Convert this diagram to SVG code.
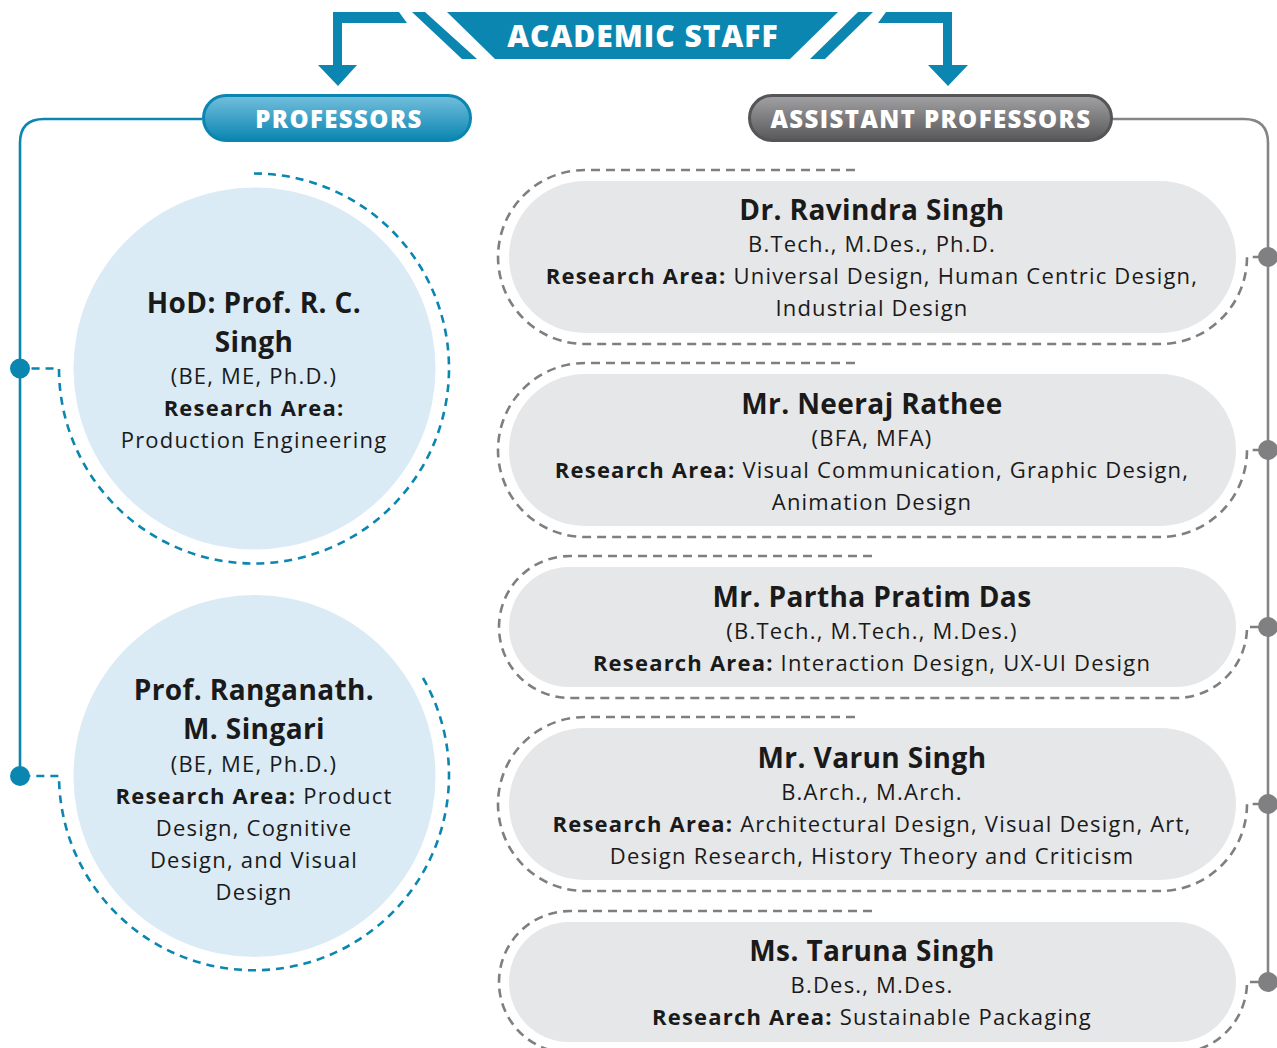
<svg xmlns="http://www.w3.org/2000/svg" width="1277" height="1048" viewBox="0 0 1277 1048">
<defs>
<linearGradient id="gBlue" x1="0" y1="0" x2="0" y2="1">
<stop offset="0" stop-color="#74bfdd"/>
<stop offset="1" stop-color="#0a86b0"/>
</linearGradient>
<linearGradient id="gGray" x1="0" y1="0" x2="0" y2="1">
<stop offset="0" stop-color="#a2a2a4"/>
<stop offset="1" stop-color="#58585a"/>
</linearGradient>
</defs>
<style>
text{font-family:"Open Sans","Liberation Sans",sans-serif;fill:#1a1a1a;text-anchor:middle}
.name{font-size:28px;font-weight:700;letter-spacing:0.4px}
.t{font-size:22px;letter-spacing:1.2px}
.b{font-weight:700}
.hdr{fill:#fff;font-weight:800}
.teal{fill:#0a86b0}
.cfill{fill:#daebf5}
.card{fill:#e6e7e8}
.tdash{fill:none;stroke:#0a86b0;stroke-width:2.6;stroke-dasharray:8 6}
.gdash{fill:none;stroke:#7f7f81;stroke-width:2.6;stroke-dasharray:9 6}
.tline{fill:none;stroke:#0a86b0;stroke-width:2.6}
.gline{fill:none;stroke:#858587;stroke-width:2.6}
.tdot{fill:#0a86b0}
.gdot{fill:#808082}
</style>

<g id="academic-staff">
<polygon class="teal" points="333,12 399,12 407,23 342,23 342,65 357,65 338,86 318,65 333,65"/>
<polygon class="teal" points="412,12 425,12 477,59 462,59"/>
<polygon class="teal" points="447,12 838,12 790,59 495,59"/>
<polygon class="teal" points="858,12 873,12 825,59 810,59"/>
<polygon class="teal" points="952,12 886,12 878,23 943,23 943,65 928,65 948,86 968,65 952,65"/>
<text class="hdr" x="643" y="47" style="font-size:30px;letter-spacing:1px">ACADEMIC STAFF</text>
</g>

<g id="connectors">
<path class="tline" d="M202,119 L44,119 Q20,119 20,143 L20,776"/>
<path class="gline" d="M1112,119 L1244,119 Q1268,119 1268,143 L1268,981"/>
<path class="tdash" d="M254,173.5 A195,195 0 1 1 59,368.5 L20,368.5"/>
<path class="tdash" d="M423,678 A195,195 0 1 1 59,776 L20,776"/>
<path class="gdash" d="M855,170 L585,170 A87,87 0 0 0 585,344 L1160,344 A87,87 0 0 0 1247,257 L1268,257"/>
<path class="gdash" d="M855,363 L585,363 A87,87 0 0 0 585,537 L1160,537 A87,87 0 0 0 1247,450 L1268,450"/>
<path class="gdash" d="M872,556 L570,556 A71,71 0 0 0 570,698 L1176,698 A71,71 0 0 0 1247,627 L1268,627"/>
<path class="gdash" d="M855,717 L585,717 A87,87 0 0 0 585,891 L1160,891 A87,87 0 0 0 1247,804 L1268,804"/>
<path class="gdash" d="M872,911 L570,911 A71,71 0 0 0 570,1053 L1176,1053 A71,71 0 0 0 1247,982 L1268,982"/>
<circle class="tdot" cx="20" cy="368.5" r="10"/>
<circle class="tdot" cx="20" cy="776" r="10"/>
<circle class="gdot" cx="1268" cy="257" r="10"/>
<circle class="gdot" cx="1268" cy="450" r="10"/>
<circle class="gdot" cx="1268" cy="627" r="10"/>
<circle class="gdot" cx="1268" cy="804" r="10"/>
<circle class="gdot" cx="1268" cy="982" r="10"/>
</g>

<g id="professors">
<rect x="203.5" y="95.5" width="267" height="45" rx="22.5" fill="url(#gBlue)" stroke="#0a86b0" stroke-width="3"/>
<text class="hdr" x="339" y="128" style="font-size:24px;letter-spacing:1.4px">PROFESSORS</text>
</g>

<g id="assistant-professors">
<rect x="749.5" y="95.5" width="362" height="45" rx="22.5" fill="url(#gGray)" stroke="#555557" stroke-width="3"/>
<text class="hdr" x="931" y="128" style="font-size:24px;letter-spacing:1.4px">ASSISTANT PROFESSORS</text>
</g>

<g id="prof-rc-singh">
<circle class="cfill" cx="254.5" cy="368.5" r="181"/>
<text class="name" x="254" y="313">HoD: Prof. R. C.</text>
<text class="name" x="254" y="352">Singh</text>
<text class="t" x="254" y="384">(BE, ME, Ph.D.)</text>
<text class="t b" x="254" y="416">Research Area:</text>
<text class="t" x="254" y="448">Production Engineering</text>
</g>

<g id="prof-singari">
<circle class="cfill" cx="254.5" cy="776" r="181"/>
<text class="name" x="254" y="700">Prof. Ranganath.</text>
<text class="name" x="254" y="739">M. Singari</text>
<text class="t" x="254" y="772">(BE, ME, Ph.D.)</text>
<text class="t" x="254" y="804"><tspan class="b">Research Area:</tspan> Product</text>
<text class="t" x="254" y="836">Design, Cognitive</text>
<text class="t" x="254" y="868">Design, and Visual</text>
<text class="t" x="254" y="900">Design</text>
</g>

<g id="ravindra-singh">
<rect class="card" x="509" y="181" width="727" height="152" rx="76"/>
<text class="name" x="872" y="220">Dr. Ravindra Singh</text>
<text class="t" x="872" y="252">B.Tech., M.Des., Ph.D.</text>
<text class="t" x="872" y="284"><tspan class="b">Research Area:</tspan> Universal Design, Human Centric Design,</text>
<text class="t" x="872" y="316">Industrial Design</text>
</g>

<g id="neeraj-rathee">
<rect class="card" x="509" y="374" width="727" height="152" rx="76"/>
<text class="name" x="872" y="414">Mr. Neeraj Rathee</text>
<text class="t" x="872" y="446">(BFA, MFA)</text>
<text class="t" x="872" y="478"><tspan class="b">Research Area:</tspan> Visual Communication, Graphic Design,</text>
<text class="t" x="872" y="510">Animation Design</text>
</g>

<g id="partha-pratim-das">
<rect class="card" x="509" y="567" width="727" height="120" rx="60"/>
<text class="name" x="872" y="607">Mr. Partha Pratim Das</text>
<text class="t" x="872" y="639">(B.Tech., M.Tech., M.Des.)</text>
<text class="t" x="872" y="671"><tspan class="b">Research Area:</tspan> Interaction Design, UX-UI Design</text>
</g>

<g id="varun-singh">
<rect class="card" x="509" y="728" width="727" height="152" rx="76"/>
<text class="name" x="872" y="768">Mr. Varun Singh</text>
<text class="t" x="872" y="800">B.Arch., M.Arch.</text>
<text class="t" x="872" y="832"><tspan class="b">Research Area:</tspan> Architectural Design, Visual Design, Art,</text>
<text class="t" x="872" y="864">Design Research, History Theory and Criticism</text>
</g>

<g id="taruna-singh">
<rect class="card" x="509" y="922" width="727" height="120" rx="60"/>
<text class="name" x="872" y="961">Ms. Taruna Singh</text>
<text class="t" x="872" y="993">B.Des., M.Des.</text>
<text class="t" x="872" y="1025"><tspan class="b">Research Area:</tspan> Sustainable Packaging</text>
</g>
</svg>
